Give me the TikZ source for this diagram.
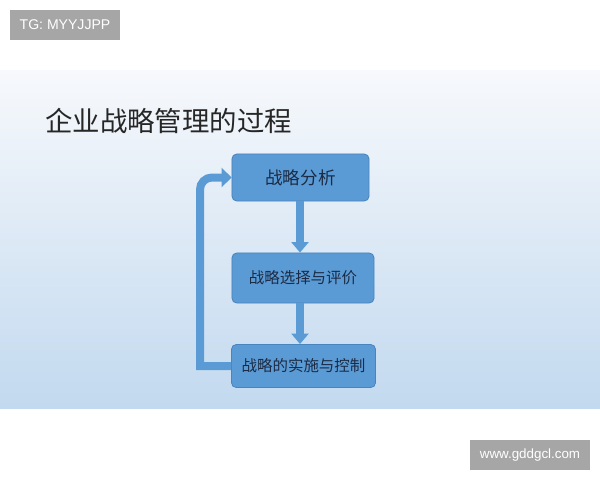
\documentclass[tikz,border=0pt]{standalone}
\usepackage{fontspec}
\setmainfont{Liberation Sans}
\newfontfamily\cjk{Noto Sans CJK SC}
\usetikzlibrary{arrows.meta}

\definecolor{slidetop}{HTML}{F7F9FC}
\definecolor{slidebot}{HTML}{C2D9EF}
\definecolor{boxfill}{HTML}{5B9BD5}
\definecolor{boxline}{HTML}{4A84BD}
\definecolor{boxtext}{HTML}{1B2B45}
\definecolor{taggrey}{HTML}{A6A6A6}

\tikzset{
	stagebox/.style={draw=boxline,fill=boxfill,rounded corners=0.12cm,line width=0.6pt,
		text=boxtext,font=\cjk\fontsize{11}{13}\selectfont,inner sep=0pt},
	downarrow/.style={draw=boxfill,line width=0.2cm,
		-{Triangle[width=0.42cm,length=0.26cm]}},
	tagbox/.style={fill=taggrey,text=white,inner sep=0pt}
}

\begin{document}
\begin{tikzpicture}[x=0.025cm,y=-0.025cm]
	\useasboundingbox (0,0) rectangle (600,480);
	\fill[white] (0,0) rectangle (600,480);
	\shade[top color=slidetop,bottom color=slidebot] (0,70) rectangle (600,408);
	
	\node[tagbox,minimum width=2.75cm,minimum height=0.75cm,font=\fontsize{10}{12}\selectfont] (tag) at (65,25) {TG: MYYJJPP};
	\node[tagbox,minimum width=3cm,minimum height=0.75cm,font=\fontsize{9.5}{11}\selectfont] (site) at (530,455) {www.gddgcl.com};
	
	\node[anchor=west,text=black!85,font=\cjk\fontsize{19.5}{22}\selectfont,inner sep=0pt] (title) at (45,121) {企业战略管理的过程};
	
	\node[stagebox,minimum width=3.425cm,minimum height=1.175cm,font=\cjk\fontsize{12.5}{14}\selectfont] (analyse) at (300.5,177.5) {战略分析};
	\node[stagebox,minimum width=3.55cm,minimum height=1.25cm] (choose) at (303,278) {战略选择与评价};
	\node[stagebox,minimum width=3.6cm,minimum height=1.075cm] (apply) at (303.5,366) {战略的实施与控制};
	
	\draw[downarrow] (analyse.south -| 300,0) -- (choose.north -| 300,0);
	\draw[downarrow] (choose.south -| 300,0) -- (apply.north -| 300,0);
	
	\draw[draw=boxfill,line width=0.2cm,-{Triangle[width=0.48cm,length=0.25cm]}]
		(apply.west) -- (200,366) [rounded corners=0.3cm] |- (analyse.west);
\end{tikzpicture}
\end{document}
